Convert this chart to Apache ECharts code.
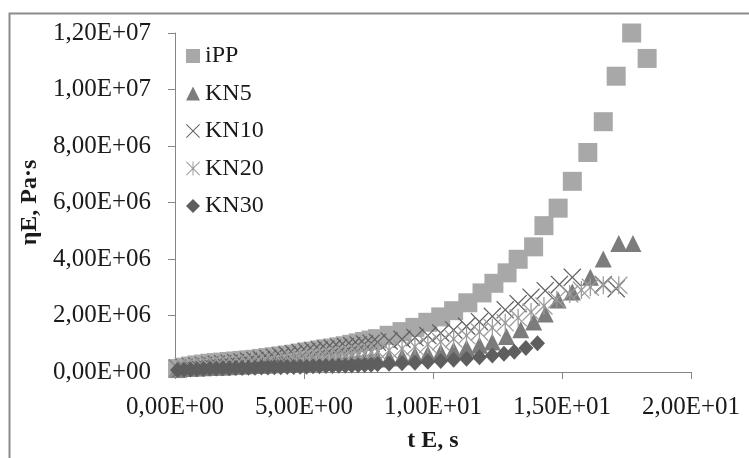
<!DOCTYPE html>
<html>
<head>
<meta charset="utf-8">
<script src="https://cdn.jsdelivr.net/npm/echarts@6/dist/echarts.min.js"></script>
<style>
  html, body { margin: 0; padding: 0; background: #fff; }
  #chart { width: 749px; height: 458px; }
</style>
</head>
<body>
<div id="chart"></div>
<script>
// Elongational viscosity vs. time for iPP and its KN composites
const seriesNames = ['iPP', 'KN5', 'KN10', 'KN20', 'KN30'];

// early part of every run is sampled on the same fine time grid (s)
const tEarly = [0.1, 0.35, 0.6, 0.85, 1.1, 1.35, 1.6, 1.85, 2.1, 2.35, 2.6, 2.85, 3.1, 3.35, 3.6, 3.85, 4.1, 4.35, 4.6, 4.85, 5.1, 5.35, 5.6, 5.85, 6.1, 6.35, 6.6, 6.85, 7.1, 7.35, 7.6, 7.85];

const ippTLate = [8.3, 8.8, 9.3, 9.8, 10.3, 10.8, 11.35, 11.9, 12.36, 12.87, 13.3, 13.9, 14.3, 14.85, 15.4, 16.0, 16.6, 17.1, 17.7, 18.3];
const ippEta = [0.12e6, 0.17e6, 0.21e6, 0.25e6, 0.28e6, 0.31e6, 0.33e6, 0.35e6, 0.37e6, 0.39e6, 0.41e6, 0.43e6, 0.45e6, 0.48e6, 0.51e6, 0.54e6, 0.57e6, 0.6e6, 0.63e6, 0.67e6, 0.71e6, 0.74e6, 0.78e6, 0.82e6, 0.85e6, 0.89e6, 0.93e6, 0.98e6, 1.03e6, 1.08e6, 1.13e6, 1.18e6,
  1.3e6, 1.43e6, 1.58e6, 1.76e6, 1.95e6, 2.17e6, 2.45e6, 2.8e6, 3.14e6, 3.51e6, 3.99e6, 4.43e6, 5.18e6, 5.8e6, 6.75e6, 7.77e6, 8.86e6, 10.47e6, 12.0e6, 11.1e6];

const kn5TLate = [8.3, 8.8, 9.3, 9.8, 10.3, 10.8, 11.3, 11.8, 12.3, 12.85, 13.4, 13.9, 14.35, 14.85, 15.4, 16.1, 16.6, 17.2, 17.75];
const kn5Eta = [0.1e6, 0.12e6, 0.13e6, 0.14e6, 0.15e6, 0.16e6, 0.17e6, 0.18e6, 0.19e6, 0.2e6, 0.21e6, 0.22e6, 0.23e6, 0.24e6, 0.25e6, 0.26e6, 0.27e6, 0.28e6, 0.29e6, 0.3e6, 0.31e6, 0.32e6, 0.33e6, 0.34e6, 0.35e6, 0.36e6, 0.37e6, 0.38e6, 0.4e6, 0.42e6, 0.44e6, 0.46e6,
  0.5e6, 0.54e6, 0.59e6, 0.64e6, 0.7e6, 0.77e6, 0.85e6, 0.95e6, 1.06e6, 1.26e6, 1.5e6, 1.77e6, 2.05e6, 2.55e6, 2.83e6, 3.35e6, 4.0e6, 4.55e6, 4.55e6];

const kn10TLate = [8.3, 8.8, 9.3, 9.8, 10.3, 10.8, 11.3, 11.8, 12.3, 12.8, 13.3, 13.8, 14.35, 14.9, 15.4, 16.6, 17.1];
const kn10Eta = [0.13e6, 0.16e6, 0.19e6, 0.21e6, 0.23e6, 0.25e6, 0.27e6, 0.29e6, 0.31e6, 0.33e6, 0.35e6, 0.38e6, 0.41e6, 0.44e6, 0.48e6, 0.52e6, 0.56e6, 0.6e6, 0.64e6, 0.68e6, 0.72e6, 0.75e6, 0.78e6, 0.81e6, 0.84e6, 0.87e6, 0.9e6, 0.93e6, 0.96e6, 0.99e6, 1.02e6, 1.05e6,
  1.1e6, 1.16e6, 1.22e6, 1.29e6, 1.38e6, 1.49e6, 1.62e6, 1.78e6, 1.97e6, 2.2e6, 2.42e6, 2.65e6, 2.88e6, 3.1e6, 3.35e6, 3.1e6, 2.95e6];

const kn20TLate = [8.3, 8.8, 9.3, 9.8, 10.3, 10.8, 11.3, 11.8, 12.3, 12.8, 13.3, 13.8, 14.3, 14.8, 15.3, 15.75, 16.1, 16.6, 17.2];
const kn20Eta = [0.11e6, 0.13e6, 0.15e6, 0.17e6, 0.19e6, 0.2e6, 0.22e6, 0.23e6, 0.25e6, 0.26e6, 0.28e6, 0.29e6, 0.31e6, 0.33e6, 0.35e6, 0.37e6, 0.39e6, 0.41e6, 0.43e6, 0.45e6, 0.47e6, 0.49e6, 0.51e6, 0.53e6, 0.55e6, 0.58e6, 0.6e6, 0.63e6, 0.65e6, 0.68e6, 0.7e6, 0.73e6,
  0.77e6, 0.83e6, 0.9e6, 0.98e6, 1.07e6, 1.17e6, 1.29e6, 1.42e6, 1.57e6, 1.74e6, 1.92e6, 2.12e6, 2.34e6, 2.56e6, 2.76e6, 2.9e6, 3.0e6, 3.07e6, 3.07e6];

const kn30TLate = [8.3, 8.8, 9.3, 9.8, 10.3, 10.8, 11.3, 11.8, 12.3, 12.75, 13.15, 13.6, 14.05];
const kn30Eta = [0.07e6, 0.08e6, 0.09e6, 0.1e6, 0.11e6, 0.12e6, 0.12e6, 0.13e6, 0.13e6, 0.14e6, 0.14e6, 0.15e6, 0.15e6, 0.16e6, 0.16e6, 0.17e6, 0.17e6, 0.18e6, 0.18e6, 0.19e6, 0.19e6, 0.2e6, 0.2e6, 0.21e6, 0.21e6, 0.22e6, 0.22e6, 0.23e6, 0.24e6, 0.25e6, 0.26e6, 0.27e6,
  0.29e6, 0.31e6, 0.33e6, 0.36e6, 0.39e6, 0.43e6, 0.47e6, 0.52e6, 0.58e6, 0.65e6, 0.72e6, 0.85e6, 1.02e6];

const xTickMin = 0, xTickMax = 20, xTickStep = 5;
const yTickMin = 0, yTickMax = 1.2e7, yTickStep = 2e6;

const xAxisTitle = 't E, s';
const yAxisTitle = 'ηE, Pa·s';

// Marker shapes: thin "x" cross and an asterisk (x plus a vertical bar)
const crossPath = 'path://M0,1 L1,0 L10,9 L19,0 L20,1 L11,10 L20,19 L19,20 L10,11 L1,20 L0,19 L9,10 Z';
const starPath = 'path://M0,1 L1,0 L9.3,8.3 L9.3,0 L10.7,0 L10.7,8.3 L19,0 L20,1 L11.7,9.3 L11.7,10.7 L20,19 L19,20 L10.7,11.7 L10.7,20 L9.3,20 L9.3,11.7 L1,20 L0,19 L8.3,10.7 L8.3,9.3 Z';

function pairs(xs, ys) { return xs.map((x, i) => [x, ys[i]]); }

// Excel-style scientific labels with decimal comma, e.g. 1,20E+07
function sci(v) {
  if (v === 0) return '0,00E+00';
  const e = Math.floor(Math.log10(Math.abs(v)) + 1e-9);
  const m = v / Math.pow(10, e);
  return m.toFixed(2).replace('.', ',') + 'E' + (e < 0 ? '-' : '+') + String(Math.abs(e)).padStart(2, '0');
}

const font = '"Liberation Serif", "Times New Roman", serif';
const axisGray = '#868686';

const chart = echarts.init(document.getElementById('chart'), null, { renderer: 'canvas' });
chart.setOption({
  backgroundColor: '#ffffff',
  animation: false,
  textStyle: { fontFamily: font },
  graphic: [{
    type: 'rect',
    left: 7, top: 11,
    shape: { width: 760, height: 470 },
    style: { fill: 'none', stroke: '#8c8c8c', lineWidth: 2 },
    silent: true
  }],
  grid: { left: 175, right: 58, top: 33, bottom: 73, containLabel: false },
  legend: {
    orient: 'vertical',
    left: 181, top: 39,
    itemWidth: 14, itemHeight: 14, itemGap: 13.5,
    textStyle: { fontFamily: font, fontSize: 24, color: '#1a1a1a', lineHeight: 24 },
    data: seriesNames
  },
  xAxis: {
    type: 'value',
    min: xTickMin, max: xTickMax, interval: xTickStep,
    name: xAxisTitle, nameLocation: 'middle', nameGap: 57,
    nameTextStyle: { fontFamily: font, fontSize: 24, fontWeight: 'bold', color: '#1a1a1a' },
    axisLine: { show: true, onZero: false, lineStyle: { color: axisGray, width: 1 } },
    axisTick: { show: true, inside: false, length: 7, lineStyle: { color: axisGray } },
    axisLabel: { formatter: sci, fontFamily: font, fontSize: 25, color: '#1a1a1a', margin: 23 },
    splitLine: { show: false }
  },
  yAxis: {
    type: 'value',
    min: yTickMin, max: yTickMax, interval: yTickStep,
    name: yAxisTitle, nameLocation: 'middle', nameGap: 133, nameRotate: 90,
    nameTextStyle: { fontFamily: font, fontSize: 24, fontWeight: 'bold', color: '#1a1a1a' },
    axisLine: { show: true, lineStyle: { color: axisGray, width: 1 } },
    axisTick: { show: true, inside: false, length: 7, lineStyle: { color: axisGray } },
    axisLabel: { formatter: sci, fontFamily: font, fontSize: 25, color: '#1a1a1a', margin: 24 },
    splitLine: { show: false }
  },
  series: [
    { name: 'iPP', type: 'scatter', symbol: 'rect', symbolSize: 19,
      itemStyle: { color: '#a8a8a8', opacity: 1 }, data: pairs(tEarly.concat(ippTLate), ippEta) },
    { name: 'KN5', type: 'scatter', symbol: 'triangle', symbolSize: [17, 17],
      itemStyle: { color: '#7c7c7c', opacity: 1 }, data: pairs(tEarly.concat(kn5TLate), kn5Eta) },
    { name: 'KN10', type: 'scatter', symbol: crossPath, symbolSize: 18,
      itemStyle: { color: '#626262', opacity: 1 }, data: pairs(tEarly.concat(kn10TLate), kn10Eta) },
    { name: 'KN20', type: 'scatter', symbol: starPath, symbolSize: 18,
      itemStyle: { color: '#9c9c9c', opacity: 1 }, data: pairs(tEarly.concat(kn20TLate), kn20Eta) },
    { name: 'KN30', type: 'scatter', symbol: 'diamond', symbolSize: [15, 16],
      itemStyle: { color: '#5e5e5e', opacity: 1 }, data: pairs(tEarly.concat(kn30TLate), kn30Eta) }
  ]
});
</script>
</body>
</html>
